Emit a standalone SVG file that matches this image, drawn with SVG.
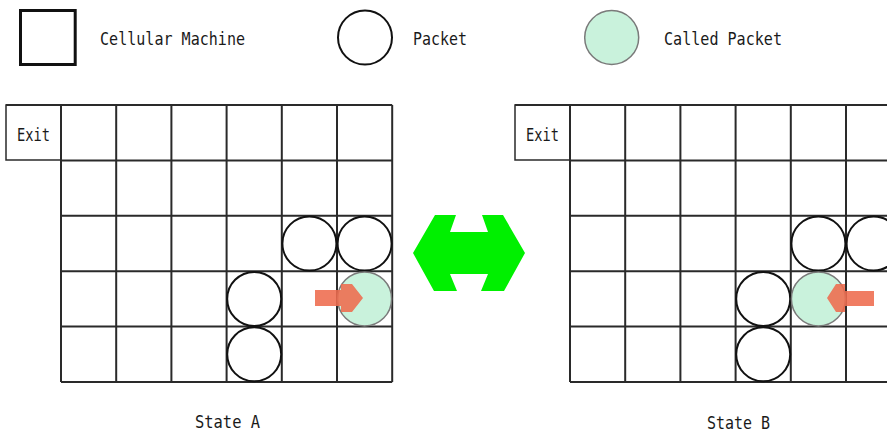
<svg xmlns="http://www.w3.org/2000/svg" width="887" height="433" viewBox="0 0 887 433">
<style>
.t{font-family:"DejaVu Sans Mono","Liberation Mono",monospace;font-size:18px;fill:#1a1a1a}
.grid{fill:none;stroke:#2a2a2a;stroke-width:2}
.exit{fill:#fff;stroke:#2a2a2a;stroke-width:1.5}
.pk{fill:#fff;stroke:#111;stroke-width:2}
.cp{fill:#c9f2dc;stroke:#7a7a7a;stroke-width:1.5}
.ra{fill:#ee6b4d;fill-opacity:0.88}
.sq{fill:#fff;stroke:#111;stroke-width:3}
</style>
<rect width="887" height="433" fill="#fff"/>
<g id="legend">
  <g id="legend-machine"><rect class="sq" x="20.5" y="10.5" width="54.7" height="54"/><text class="t" x="100" y="45" textLength="145" lengthAdjust="spacingAndGlyphs">Cellular Machine</text></g>
  <g id="legend-packet"><circle class="pk" cx="365" cy="37.5" r="27"/><text class="t" x="413" y="45" textLength="54" lengthAdjust="spacingAndGlyphs">Packet</text></g>
  <g id="legend-called"><circle class="cp" cx="611.7" cy="37.5" r="27"/><text class="t" x="664" y="45" textLength="118" lengthAdjust="spacingAndGlyphs">Called Packet</text></g>
</g>
<g id="stateA">
  <g id="gridA">
    <path class="exit" d="M61,105 H6 V160 H61"/>
    <path class="grid" d="M61,105 V382 M116.2,105 V382 M171.4,105 V382 M226.6,105 V382 M281.8,105 V382 M337,105 V382 M392.2,105 V382 M6,105 H392.2 M61,160.4 H392.2 M61,215.8 H392.2 M61,271.2 H392.2 M61,326.6 H392.2 M61,382 H392.2"/>
    <text class="t" x="17" y="141" textLength="33" lengthAdjust="spacingAndGlyphs">Exit</text>
  </g>
  <g id="A-p1"><circle class="pk" cx="309.4" cy="243.5" r="27"/></g>
  <g id="A-p2"><circle class="pk" cx="364.6" cy="243.5" r="27"/></g>
  <g id="A-p3"><circle class="pk" cx="254.2" cy="298.9" r="27"/></g>
  <g id="A-p4"><circle class="pk" cx="254.2" cy="354.3" r="27"/></g>
  <g id="A-called"><circle class="cp" cx="364.6" cy="298.9" r="27"/></g>
  <g id="A-arrow"><path class="ra" d="M315,290 H341 V284 H352 L363,298 L352,312 H341 V306 H315 Z"/></g>
  <text class="t" x="195" y="428" textLength="65" lengthAdjust="spacingAndGlyphs">State A</text>
</g>
<g id="connectors">
  <path id="swap" fill="#00f000" d="M413,253 L435,215 H456 L450,232 H488 L482,215 H503 L525,253 L504,291 H481 L488,274 H450 L457,291 H434 Z"/>
</g>
<g id="stateB">
  <g id="gridB">
    <path class="exit" d="M570,105 H515 V160 H570"/>
    <path class="grid" d="M570,105 V382 M625.2,105 V382 M680.4,105 V382 M735.6,105 V382 M790.8,105 V382 M846,105 V382 M901.2,105 V382 M515,105 H901.2 M570,160.4 H901.2 M570,215.8 H901.2 M570,271.2 H901.2 M570,326.6 H901.2 M570,382 H901.2"/>
    <text class="t" x="526" y="141" textLength="33" lengthAdjust="spacingAndGlyphs">Exit</text>
  </g>
  <g id="B-p1"><circle class="pk" cx="818.4" cy="243.5" r="27"/></g>
  <g id="B-p2"><circle class="pk" cx="873.6" cy="243.5" r="27"/></g>
  <g id="B-p3"><circle class="pk" cx="763.2" cy="298.9" r="27"/></g>
  <g id="B-p4"><circle class="pk" cx="763.2" cy="354.3" r="27"/></g>
  <g id="B-called"><circle class="cp" cx="818.4" cy="298.9" r="27"/></g>
  <g id="B-arrow"><path class="ra" d="M874,291 H845 V284 H836 L827,298 L836,312 H845 V306 H874 Z"/></g>
  <text class="t" x="707" y="429" textLength="63" lengthAdjust="spacingAndGlyphs">State B</text>
</g>
</svg>
